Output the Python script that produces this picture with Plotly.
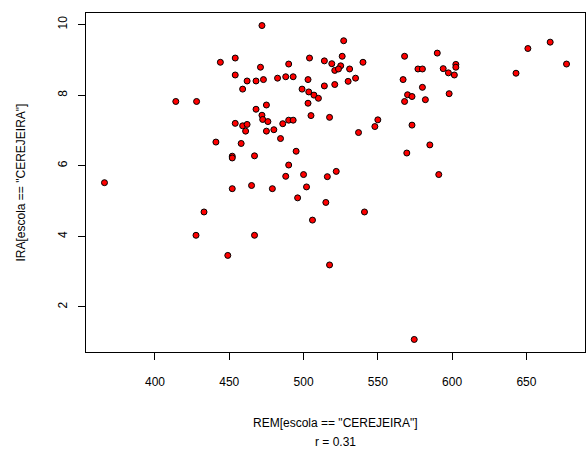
import plotly.graph_objects as go

rem = [444, 454, 454, 462, 468, 459, 414, 428, 468, 454, 459, 462, 461, 441, 458, 452, 452, 467,
       472, 527, 568, 504, 490, 471, 514, 519, 526, 525, 521, 523.5, 531, 540, 473, 482.5, 488, 493,
       503, 514, 521, 530, 535, 567, 577, 580, 580, 570, 573, 568, 582, 499, 503.5, 507, 510, 503,
       475, 472, 472.5, 476, 475, 480, 486, 490, 493, 484.5, 505, 517.5, 550, 548, 537, 573, 585,
       569.5, 495, 490, 488, 500, 516, 522, 590, 594, 597.5, 601.5, 602.5, 602.5, 598, 591, 643,
       651, 666, 677, 366, 452, 465, 433, 427.6, 467, 449, 479, 502, 496, 515, 506, 541, 517.5, 574.5]
ira = [8.93, 9.05, 8.57, 8.40, 8.40, 8.17, 7.82, 7.82, 7.60, 7.20, 7.13, 7.17, 6.98, 6.67, 6.63, 6.27, 6.22, 6.28,
       9.97, 9.54, 9.10, 9.05, 8.88, 8.79, 8.97, 8.89, 9.10, 8.83, 8.70, 8.74, 8.74, 8.93, 8.44, 8.48, 8.52, 8.52,
       8.44, 8.26, 8.30, 8.39, 8.48, 8.44, 8.74, 8.74, 8.22, 8.01, 7.96, 7.82, 7.87, 8.17, 8.09, 8.00, 7.91, 7.77,
       7.72, 7.43, 7.31, 7.25, 6.98, 7.02, 7.19, 7.29, 7.29, 6.77, 7.42, 7.37, 7.30, 7.11, 6.94, 7.15, 6.59,
       6.36, 6.41, 6.02, 5.70, 5.75, 5.69, 5.84, 9.19, 8.75, 8.63, 8.57, 8.87, 8.79, 8.04, 5.75, 8.62,
       9.32, 9.50, 8.88, 5.52, 5.35, 5.44, 4.69, 4.03, 4.03, 3.46, 5.35, 5.40, 5.09, 4.96, 4.46, 4.69, 3.19, 1.08]

x_ticks = [400, 450, 500, 550, 600, 650]
y_ticks = [2, 4, 6, 8, 10]
x_title = 'REM[escola == "CEREJEIRA"]'
y_title = 'IRA[escola == "CEREJEIRA"]'
sub_title = "r = 0.31"


def r_range(v):
    lo, hi = min(v), max(v)
    pad = (hi - lo) * 0.04
    return [lo - pad, hi + pad]


FONT = "Liberation Sans, Arial, sans-serif"

fig = go.Figure(go.Scatter(
    x=rem, y=ira, mode="markers",
    marker=dict(color="#FF0000", size=6, line=dict(color="#000000", width=1)),
    hoverinfo="x+y",
))

axis_common = dict(
    showgrid=False, zeroline=False, showline=True, mirror=True,
    linecolor="#000000", linewidth=1, ticks="outside", ticklen=7,
    tickcolor="#000000", tickwidth=1,
    tickfont=dict(family=FONT, size=12, color="#000000"),
)

fig.update_layout(
    width=586, height=452,
    margin=dict(l=86, r=1, t=13, b=100),
    paper_bgcolor="white", plot_bgcolor="white",
    showlegend=False,
    xaxis=dict(range=r_range(rem), tickmode="array", tickvals=x_ticks,
               ticktext=[str(v) for v in x_ticks], ticklabelstandoff=12, **axis_common),
    yaxis=dict(range=r_range(ira), tickmode="array", tickvals=y_ticks,
               ticktext=[str(v) for v in y_ticks], tickangle=-90, ticklabelstandoff=6, **axis_common),
    annotations=[
        dict(text=x_title, xref="paper", yref="paper", x=0.5, y=0, xanchor="center",
             yanchor="middle", yshift=-71, showarrow=False,
             font=dict(family=FONT, size=12, color="#000000")),
        dict(text=sub_title, xref="paper", yref="paper", x=0.5, y=0, xanchor="center",
             yanchor="middle", yshift=-90, showarrow=False,
             font=dict(family=FONT, size=12, color="#000000")),
        dict(text=y_title, xref="paper", yref="paper", x=0, y=0.5, xanchor="center",
             yanchor="middle", xshift=-66, textangle=-90, showarrow=False,
             font=dict(family=FONT, size=12, color="#000000")),
    ],
)

fig.write_html("out.html",
               config={"displayModeBar": False},
               post_script="document.body.style.margin='0';document.body.style.overflow='hidden';")
